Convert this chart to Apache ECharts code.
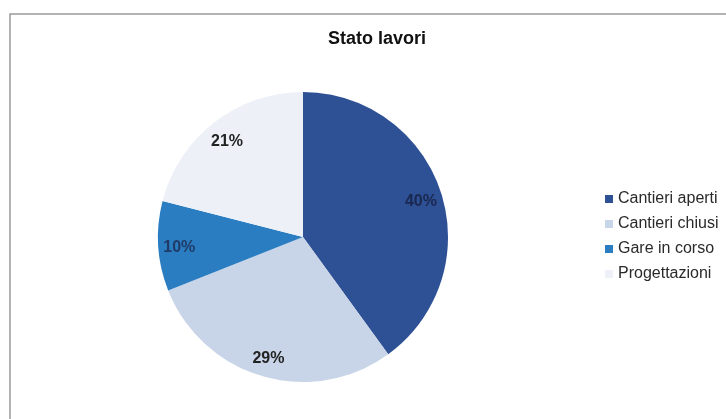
<!DOCTYPE html>
<html>
<head>
<meta charset="utf-8">
<script src="https://cdn.jsdelivr.net/npm/echarts@6/dist/echarts.min.js"></script>
<style>
html,body{margin:0;padding:0;background:#fff;}
#chart{width:726px;height:419px;}
</style>
</head>
<body>
<div id="chart"></div>
<script>
var categories = ['Cantieri aperti', 'Cantieri chiusi', 'Gare in corso', 'Progettazioni'];
var values = [40, 29, 10, 21];
var colors = ['#2e5095', '#c8d4e7', '#2b7dc1', '#edf1f7'];
var labelColors = ['#1a2850', '#222222', '#1f3a66', '#222222'];
var titleText = 'Stato lavori';

var chart = echarts.init(document.getElementById('chart'));
var sliceData = categories.map(function (c, i) {
  return { name: c, value: values[i], itemStyle: { color: colors[i] } };
});
var labelData = categories.map(function (c, i) {
  return { name: c, value: values[i], label: { color: labelColors[i] } };
});
chart.setOption({
  animation: false,
  backgroundColor: '#ffffff',
  graphic: [{
    type: 'rect',
    shape: { x: 10, y: 14, width: 800, height: 500 },
    style: { fill: 'none', stroke: '#9a9a9a', lineWidth: 1.5 },
    silent: true
  }],
  title: {
    text: titleText,
    left: 372,
    top: 25,
    textAlign: 'center',
    textStyle: { fontFamily: 'Liberation Sans, Arial', fontSize: 18, fontWeight: 'bold', color: '#111' }
  },
  legend: {
    orient: 'vertical',
    left: 600,
    top: 186,
    itemWidth: 8,
    itemHeight: 8,
    itemGap: 9,
    icon: 'rect',
    data: categories.map(function (c, i) { return { name: c, itemStyle: { color: colors[i] } }; }),
    textStyle: { fontFamily: 'Liberation Sans, Arial', fontSize: 16, lineHeight: 16, color: '#2a2a2a' }
  },
  series: [{
    type: 'pie',
    center: [303, 237],
    radius: [0, 145],
    startAngle: 90,
    clockwise: true,
    data: sliceData,
    label: { show: false },
    labelLine: { show: false },
    emphasis: { disabled: true }
  }, {
    type: 'pie',
    center: [303, 240],
    radius: [97, 145],
    startAngle: 90,
    clockwise: true,
    silent: true,
    data: labelData,
    itemStyle: { color: 'rgba(0,0,0,0)' },
    label: {
      show: true,
      position: 'inside',
      formatter: '{d}%',
      fontFamily: 'Liberation Sans, Arial',
      fontSize: 16,
      fontWeight: 'bold'
    },
    labelLine: { show: false },
    emphasis: { disabled: true }
  }]
});
</script>
</body>
</html>
